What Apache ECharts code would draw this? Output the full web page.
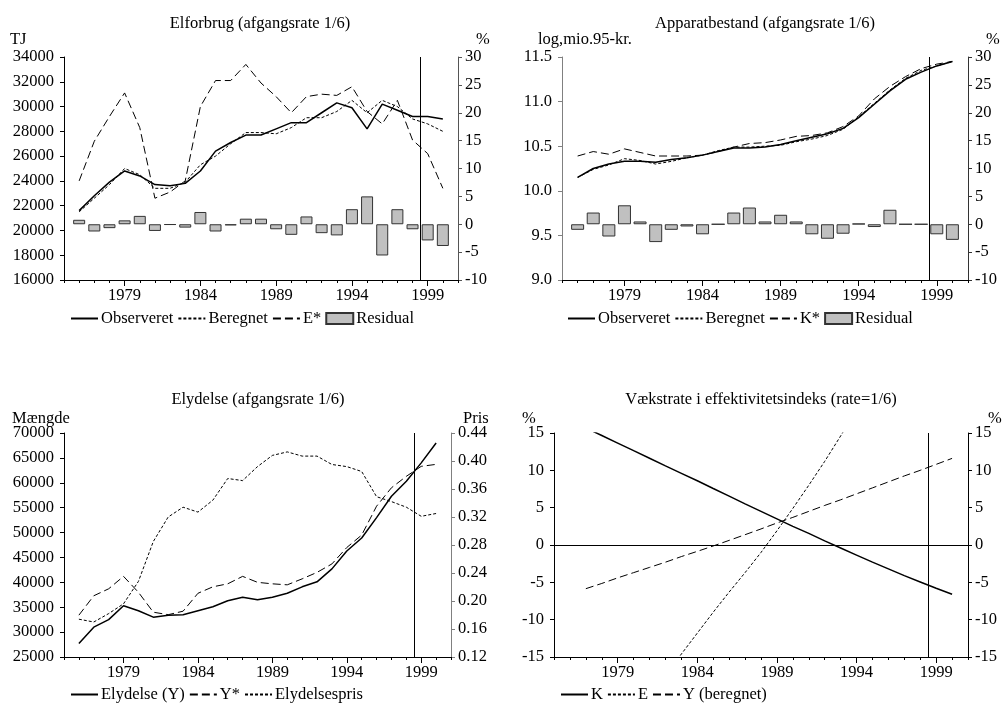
<!DOCTYPE html>
<html><head><meta charset="utf-8">
<script src="https://cdn.jsdelivr.net/npm/echarts@6/dist/echarts.min.js"></script>
<style>html,body{margin:0;padding:0;background:#fff}#c{width:1002px;height:705px}</style>
</head><body><div id="c"></div><script>
// ---------- DATA ----------
const years = [1976,1977,1978,1979,1980,1981,1982,1983,1984,1985,1986,1987,1988,1989,1990,1991,1992,1993,1994,1995,1996,1997,1998,1999,2000];
const xLabelYears = [1979,1984,1989,1994,1999];
const forecastStart = 1998.5;

// Elforbrug (TJ, left) + residual (%, right)
const elObs   = [21600,22800,23900,24800,24400,23700,23600,23800,24800,26400,27100,27700,27700,28200,28700,28700,29500,30300,29900,28200,30200,29700,29200,29200,29000];
const elBer   = [21500,22600,23700,25000,24500,23400,23400,23900,25300,26000,27000,27900,27900,27800,28300,29100,29100,29600,30500,29500,30500,30000,29000,28600,28000];
const elEstar = [24000,27200,29200,31100,28300,22600,23100,24000,30000,32100,32100,33400,31900,30800,29500,30800,31000,30900,31600,29600,28600,30500,27300,26200,23400];
const elResid = [0.8,-1.3,-0.7,0.7,1.5,-1.2,-0.1,-0.6,2.2,-1.3,-0.2,1.0,1.0,-0.9,-1.9,1.4,-1.6,-2.0,2.7,5.0,-5.6,2.7,-0.9,-2.9,-3.9];

// Apparatbestand (log, left) + residual (%, right)
const apObs   = [10.15,10.25,10.30,10.33,10.33,10.32,10.35,10.37,10.40,10.44,10.48,10.48,10.49,10.52,10.56,10.60,10.64,10.70,10.82,10.97,11.12,11.25,11.33,11.40,11.45];
const apBer   = [10.15,10.24,10.29,10.36,10.34,10.30,10.33,10.37,10.40,10.45,10.49,10.49,10.50,10.51,10.55,10.58,10.62,10.69,10.83,10.98,11.13,11.26,11.35,11.40,11.45];
const apKstar = [10.39,10.44,10.41,10.47,10.43,10.39,10.39,10.39,10.40,10.44,10.49,10.53,10.54,10.57,10.61,10.62,10.65,10.72,10.84,11.03,11.17,11.28,11.37,11.42,11.45];
const apResid = [-1.0,2.1,-2.2,3.4,0.5,-3.2,-1.0,-0.4,-1.8,0,2.1,3.0,0.5,1.7,0.5,-1.8,-2.6,-1.7,0.1,-0.5,2.6,0,0,-1.8,-2.8];

// Elydelse (Mængde, left) + pris (right)
const elyY     = [27700,31000,32500,35300,34300,33000,33400,33500,34300,35100,36300,37000,36500,37000,37800,39100,40100,42700,46300,48900,53000,57300,60300,64000,68000];
const elyYstar = [33400,37300,38700,41200,38000,34000,33500,34200,37800,39100,39700,41200,40000,39700,39500,40700,42000,43700,47000,49500,55300,59000,61300,63300,63700];
const elyPris  = [0.174,0.170,0.182,0.196,0.228,0.285,0.320,0.334,0.327,0.344,0.375,0.372,0.392,0.408,0.413,0.407,0.407,0.395,0.392,0.385,0.349,0.342,0.334,0.321,0.325];

// Vækstrate i effektivitetsindeks (%)
const effK = [null,15.68,14.66,13.65,12.63,11.62,10.6,9.6,8.6,7.57,6.55,5.5,4.5,3.5,2.5,1.55,0.55,-0.4,-1.35,-2.3,-3.2,-4.1,-4.95,-5.8,-6.6];
const effE = [null,null,null,null,null,null,-17.5,-14.6,-11.8,-9.0,-6.3,-3.7,-1.0,1.9,4.9,8.0,11.2,14.6,18.0,null,null,null,null,null,null];
const effY = [null,-5.85,-5.15,-4.4,-3.7,-3.0,-2.3,-1.55,-0.85,-0.13,0.62,1.38,2.15,2.95,3.7,4.5,5.3,6.05,6.85,7.65,8.45,9.25,10.0,10.8,11.6];

// axis scales [min, max, interval]
const leftScales  = [[16000,34000,2000],[9,11.5,0.5],[25000,70000,5000],[-15,15,5]];
const rightScales = [[-10,30,5],[-10,30,5],[0.12,0.44,0.04],[-15,15,5]];

// ---------- LAYOUT / STYLE ----------
const FONT = 'Liberation Serif';
const FS = 16.5;
const grids = [
  {left:64,  top:57,  width:394, height:223},
  {left:562, top:57,  width:406, height:223},
  {left:64,  top:433, width:387, height:224},
  {left:554, top:433, width:414, height:224}
];
const leftColors  = ['#000','#808080','#000','#000'];
const rightColors = ['#555','#333','#808080','#000'];
const leftFmt  = [v=>String(v), v=>v.toFixed(1), v=>String(v), v=>String(v)];
const rightFmt = [v=>String(v), v=>String(v), v=>v.toFixed(2), v=>String(v)];
const catYears = [];
for (let y = 1975; y <= 2001; y++) catYears.push(String(y));

const txt = {fontFamily: FONT, fontSize: FS, color: '#000'};
const xAxes = [], yAxes = [];
grids.forEach((g, i) => {
  xAxes.push({
    type:'value', gridIndex:i, min:1975, max:2001, interval:1, position:'bottom',
    axisLine:{show:true, onZero:false, lineStyle:{color:'#000', width:1}},
    axisTick:{show:true, length:3, lineStyle:{color:'#000'}},
    axisLabel:{...txt, margin:7, formatter: v => xLabelYears.includes(v) ? String(v) : ''},
    splitLine:{show:false}
  });
  xAxes.push({
    type:'category', gridIndex:i, data:catYears, boundaryGap:false, position:'bottom',
    axisLine:{show:false, onZero:false},
    axisTick:{show:true, length:6, interval:(idx, v) => xLabelYears.includes(Number(v)), lineStyle:{color:'#000'}},
    axisLabel:{show:false}, splitLine:{show:false}
  });
  const L = leftScales[i], R = rightScales[i];
  yAxes.push({
    type:'value', gridIndex:i, position:'left', min:L[0], max:L[1], interval:L[2],
    axisLine:{show:true, onZero:false, lineStyle:{color:leftColors[i], width:1}},
    axisTick:{show:true, length:4, lineStyle:{color:leftColors[i]}},
    axisLabel:{...txt, margin:10, formatter:leftFmt[i]},
    splitLine:{show:false}
  });
  yAxes.push({
    type:'value', gridIndex:i, position:'right', min:R[0], max:R[1], interval:R[2],
    axisLine:{show:true, onZero:false, lineStyle:{color:rightColors[i], width:1}},
    axisTick:{show:true, length:4, lineStyle:{color:rightColors[i]}},
    axisLabel:{...txt, margin:7, formatter:rightFmt[i]},
    splitLine:{show:false}
  });
});

const pts = arr => years.map((y, k) => [y, arr[k]]);
const SOLID = 'solid', FINE = [3,2], LONG = [8,4];
const CLEAR = 'rgba(0,0,0,0)';
function line(name, data, g, right, type, width, extra) {
  return Object.assign({
    type:'line', name, xAxisIndex:2*g, yAxisIndex:2*g + (right ? 1 : 0),
    data:pts(data), symbol:'none', showSymbol:false, clip:true, z:3,
    itemStyle:{color:CLEAR, borderColor:CLEAR, borderWidth:0},
    lineStyle:{color:'#000', width:width, type:type}, emphasis:{disabled:true}
  }, extra || {});
}
function bar(name, data, g, width) {
  return {
    type:'bar', name, xAxisIndex:2*g, yAxisIndex:2*g + 1, data:pts(data), barWidth:width, z:1,
    itemStyle:{color:'#c0c0c0', borderColor:'#333', borderWidth:1}, emphasis:{disabled:true}
  };
}
const vLine = {
  silent:true, symbol:'none', label:{show:false},
  lineStyle:{color:'#000', width:1, type:'solid'},
  data:[{xAxis: forecastStart}]
};
const vzLine = {
  silent:true, symbol:'none', label:{show:false},
  lineStyle:{color:'#000', width:1, type:'solid'},
  data:[{xAxis: forecastStart}, {yAxis: 0}]
};

const series = [
  bar('Residual', elResid, 0, 12),
  line('Observeret', elObs, 0, false, SOLID, 1.5, {markLine: vLine}),
  line('Beregnet', elBer, 0, false, FINE, 1),
  line('E*', elEstar, 0, false, LONG, 1),

  bar('Residual', apResid, 1, 13),
  line('Observeret', apObs, 1, false, SOLID, 1.5, {markLine: vLine}),
  line('Beregnet', apBer, 1, false, FINE, 1),
  line('K*', apKstar, 1, false, LONG, 1),

  line('Elydelse (Y)', elyY, 2, false, SOLID, 1.5, {markLine: vLine}),
  line('Y*', elyYstar, 2, false, LONG, 1),
  line('Elydelsespris', elyPris, 2, true, FINE, 1),

  line('K', effK, 3, false, SOLID, 1.5, {markLine: vzLine}),
  line('E', effE, 3, false, FINE, 1),
  line('Y (beregnet)', effY, 3, false, LONG, 1)
];

const titleStyle = {fontFamily:FONT, fontSize:FS, fontWeight:'normal', color:'#000'};
const T = (text, left, top, align) => ({text, left, top, padding:0, textAlign:align || 'left', textStyle:titleStyle});
const titles = [
  T('Elforbrug (afgangsrate 1/6)', 260, 15, 'center'),
  T('Apparatbestand (afgangsrate 1/6)', 765, 15, 'center'),
  T('Elydelse (afgangsrate 1/6)', 258, 391, 'center'),
  T('Vækstrate i effektivitetsindeks (rate=1/6)', 761, 391, 'center'),
  T('TJ', 10, 31), T('%', 476, 31),
  T('log,mio.95-kr.', 538, 31), T('%', 986, 31),
  T('Mængde', 12, 410), T('Pris', 463, 410),
  T('%', 522, 410), T('%', 988, 410)
];

const legBase = {itemWidth:27, itemHeight:11, itemGap:4, padding:0, selectedMode:false, textStyle:{...txt, padding:[0,0,0,-2]}};
const resItem = name => ({name, icon:'rect'});
const legends = [
  {...legBase, left:70,  top:310, data:['Observeret','Beregnet','E*',resItem('Residual')]},
  {...legBase, left:567, top:310, data:['Observeret','Beregnet','K*',resItem('Residual')]},
  {...legBase, left:70,  top:686, data:['Elydelse (Y)','Y*','Elydelsespris']},
  {...legBase, left:560, top:686, data:['K','E','Y (beregnet)']}
];

const chart = echarts.init(document.getElementById('c'), null, {renderer:'canvas'});
chart.setOption({
  animation:false,
  backgroundColor:'#fff',
  textStyle:{fontFamily:FONT},
  title:titles,
  legend:legends,
  grid:grids.map(g => ({...g, containLabel:false})),
  xAxis:xAxes,
  yAxis:yAxes,
  series:series
});
</script></body></html>
